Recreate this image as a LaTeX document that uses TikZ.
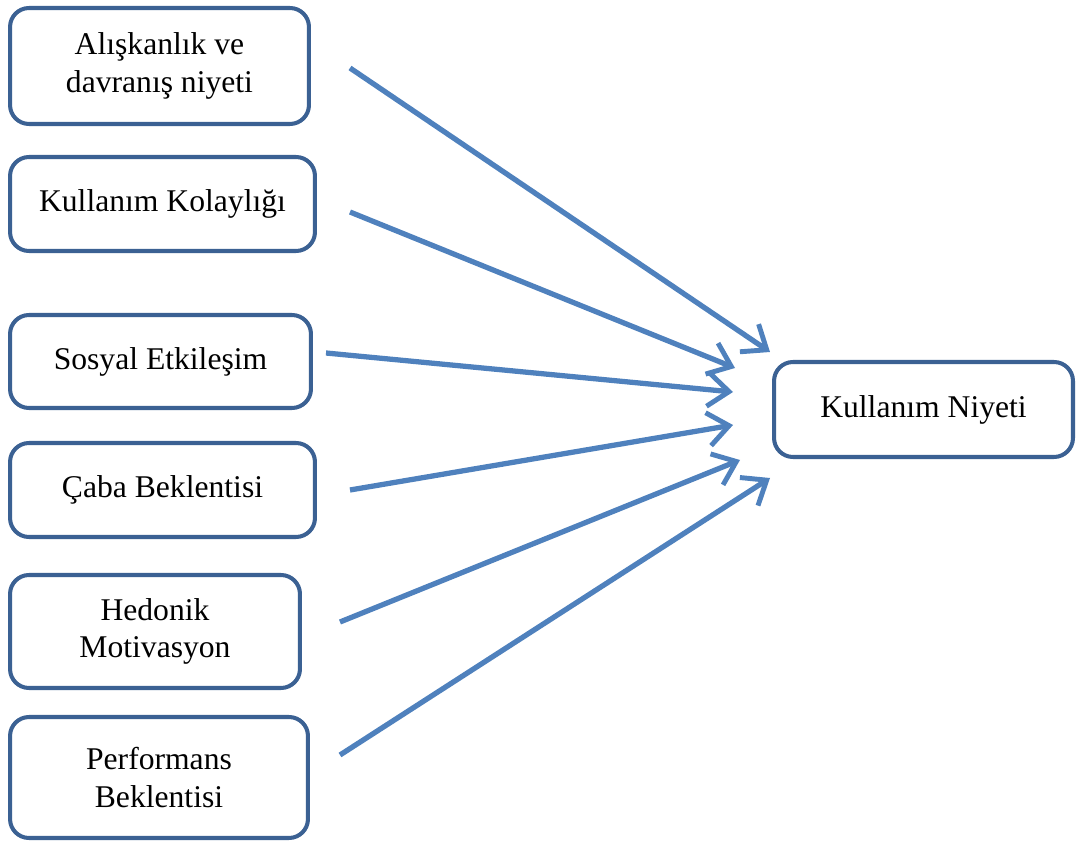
\documentclass[tikz,border=0pt]{standalone}
\usepackage{fontspec}
\setmainfont{Liberation Serif}
\usepackage{xcolor}
\usetikzlibrary{arrows.meta}
\definecolor{boxblue}{HTML}{3B6193}
\definecolor{arrowblue}{HTML}{4F81BD}

\begin{document}
\begin{tikzpicture}[x=0.02cm,y=-0.02cm,
  box/.style={rectangle,draw=boxblue,line width=2.3pt,rounded corners=0.38cm,
    fill=white,align=center,font=\fontsize{18}{21.5}\selectfont},
  arr/.style={-{Straight Barb[length=12pt,width=19pt,line width=2.8pt]},
    line width=3pt,color=arrowblue}
]
  \useasboundingbox (0,0) rectangle (1078,847);

  \node[box,minimum width=5.98cm,minimum height=2.32cm] (habit) at (159.5,66)    {Alışkanlık ve\\davranış niyeti};
  \node[box,minimum width=6.1cm, minimum height=1.88cm] (ease)  at (162.5,204)   {Kullanım Kolaylığı};
  \node[box,minimum width=6.02cm,minimum height=1.86cm] (social) at (160.5,361.5) {Sosyal Etkileşim};
  \node[box,minimum width=6.1cm, minimum height=1.88cm] (effort) at (162.5,490)  {Çaba Beklentisi};
  \node[box,minimum width=5.8cm, minimum height=2.26cm] (hedonic) at (155,631.5) {Hedonik\\Motivasyon};
  \node[box,minimum width=5.96cm,minimum height=2.42cm] (perf)  at (159,777.5)   {Performans\\Beklentisi};
  \node[box,minimum width=5.98cm,minimum height=1.9cm]  (intent) at (923.5,409.5) {Kullanım Niyeti};

  % free arrow ends
  \coordinate (s1) at (350,68);  \coordinate (e1) at (770,352);
  \coordinate (s2) at (350,212); \coordinate (e2) at (735,368);
  \coordinate (s3) at (326,353); \coordinate (e3) at (733,392);
  \coordinate (s4) at (350,490); \coordinate (e4) at (733,425);
  \coordinate (s5) at (340,622); \coordinate (e5) at (740,460);
  \coordinate (s6) at (340,755); \coordinate (e6) at (770,478);

  \draw[arr] (s1) -- (e1);
  \draw[arr] (s2) -- (e2);
  \draw[arr] (s3) -- (e3);
  \draw[arr] (s4) -- (e4);
  \draw[arr] (s5) -- (e5);
  \draw[arr] (s6) -- (e6);
\end{tikzpicture}
\end{document}
